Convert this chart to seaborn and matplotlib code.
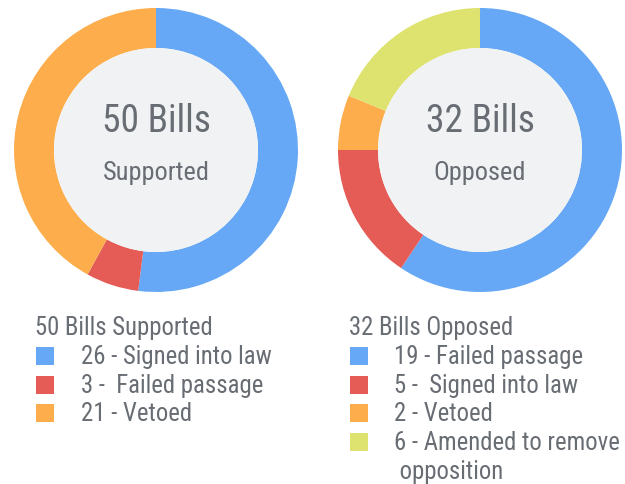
import matplotlib
matplotlib.use("Agg")
import matplotlib.pyplot as plt
from matplotlib.patches import Circle, Rectangle
from matplotlib import font_manager
import seaborn as sns

# ---- data ----
supported_counts = [26, 3, 21]
supported_labels = ["26 - Signed into law", "3 -  Failed passage", "21 - Vetoed"]
supported_colors = ["#66a8f5", "#e55b55", "#fdad4b"]

opposed_counts = [19, 5, 2, 6]
opposed_labels = ["19 - Failed passage", "5 -  Signed into law", "2 - Vetoed",
                  "6 - Amended to remove\n opposition"]
opposed_colors = ["#66a8f5", "#e55b55", "#fdad4b", "#dde36e"]

totals = [sum(supported_counts), sum(opposed_counts)]
center_titles = [f"{totals[0]} Bills", f"{totals[1]} Bills"]
center_subs = ["Supported", "Opposed"]
legend_titles = [f"{totals[0]} Bills Supported", f"{totals[1]} Bills Opposed"]

sns.set_theme(style="white")
names = {f.name for f in font_manager.fontManager.ttflist}
condensed = None
for cand in ["Roboto Condensed", "Liberation Sans Narrow", "Open Sans Condensed"]:
    if cand in names:
        condensed = cand
        break
if condensed:
    plt.rcParams["font.family"] = [condensed, "DejaVu Sans"]
    FS_BIG, FS_SUB, FS_LEG = 27, 19, 17.8
else:
    plt.rcParams["font.family"] = ["Roboto", "DejaVu Sans"]
    FS_BIG, FS_SUB, FS_LEG = 24.5, 17, 16

W, H = 625, 485
fig = plt.figure(figsize=(W / 100, H / 100), dpi=100)
ax = fig.add_axes([0, 0, 1, 1])

TXT = "#686d74"
R_OUT, R_IN = 142, 102
centers = [(156, H - 151), (480, H - 151)]

for (cx, cy), counts, colors, t, s in zip(
        centers, [supported_counts, opposed_counts], [supported_colors, opposed_colors],
        center_titles, center_subs):
    ax.pie(counts, colors=colors, startangle=90, counterclock=False,
           center=(cx, cy), radius=R_OUT,
           wedgeprops=dict(width=R_OUT - R_IN, linewidth=0), frame=True)
    ax.add_patch(Circle((cx, cy), R_IN, facecolor="#f1f2f4", edgecolor="none", zorder=3))
    ax.text(cx, cy + 29, t, ha="center", va="center", fontsize=FS_BIG, color=TXT, zorder=4)
    ax.text(cx, cy - 22, s, ha="center", va="center", fontsize=FS_SUB, color=TXT, zorder=4)

ax.set_xlim(0, W)
ax.set_ylim(0, H)
ax.set_aspect("equal")
ax.axis("off")

legend_x = [36, 350]
text_x = [81, 394]
for lx, tx, title, labels, colors in zip(
        legend_x, text_x, legend_titles,
        [supported_labels, opposed_labels], [supported_colors, opposed_colors]):
    ax.text(lx - 1, H - 328, title, ha="left", va="center", fontsize=FS_LEG, color=TXT)
    for i, (lab, col) in enumerate(zip(labels, colors)):
        yc = H - (357 + i * 28.7)
        ax.add_patch(Rectangle((lx, yc - 9), 18, 18, facecolor=col, edgecolor="none"))
        for j, line in enumerate(lab.split("\n")):
            ax.text(tx, yc - j * 29, line, ha="left", va="center",
                    fontsize=FS_LEG, color=TXT)

fig.savefig("out.png", dpi=100)
